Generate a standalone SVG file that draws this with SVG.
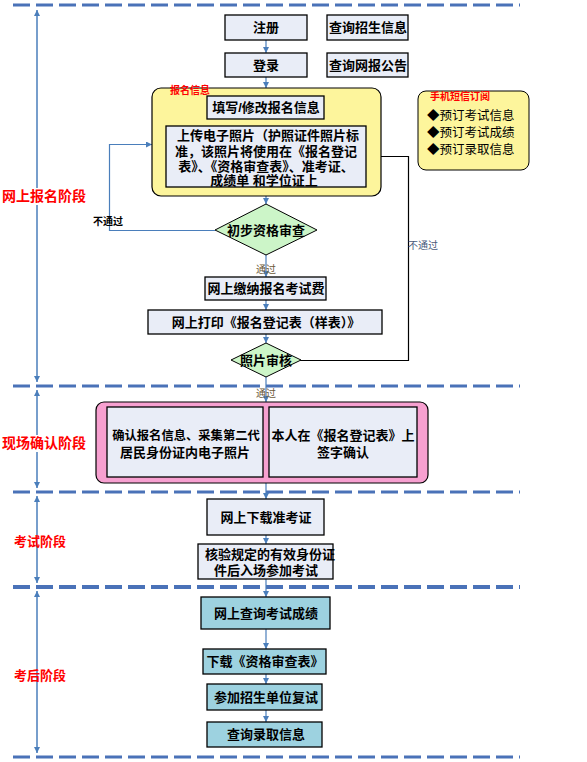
<svg xmlns="http://www.w3.org/2000/svg" width="587" height="762" viewBox="0 0 587 762">
<defs>
<marker id="ab" viewBox="0 0 8 8" refX="8" refY="4" markerWidth="6" markerHeight="6" orient="auto-start-reverse" markerUnits="userSpaceOnUse"><path d="M0,0 L8,4 L0,8 z" fill="#4a7ebb"/></marker>
<marker id="ak" viewBox="0 0 8 8" refX="8" refY="4" markerWidth="6" markerHeight="6" orient="auto" markerUnits="userSpaceOnUse"><path d="M0,0 L8,4 L0,8 z" fill="#000"/></marker>
</defs>
<style>
text{font-family:"Liberation Sans","Noto Sans CJK SC",sans-serif;}
.b{font-weight:bold;font-size:13px;text-anchor:middle;fill:#000;}
.box{fill:#e9edf7;stroke:#000;stroke-width:1.3;}
.teal{fill:#9dd2e0;stroke:#000;stroke-width:1.3;}
.dash{stroke:#4a72b8;stroke-width:3;stroke-dasharray:17 6;fill:none;}
.c{stroke:#4a7ebb;stroke-width:1.2;fill:none;marker-end:url(#ab);}
.stage{stroke:#4a7ebb;stroke-width:1.5;fill:none;marker-start:url(#ab);marker-end:url(#ab);}
.red{fill:#ff0000;font-weight:bold;font-size:10px;}
.lbl{fill:#ff0000;font-weight:bold;font-size:14px;}
.small{font-size:10px;fill:#555;}
</style>

<g id="stages">
<line class="dash" x1="13" y1="5" x2="520" y2="5"/>
<line class="dash" x1="13" y1="386" x2="520" y2="386"/>
<line class="dash" x1="13" y1="492" x2="520" y2="492"/>
<line class="dash" x1="13" y1="587" x2="520" y2="587" style="stroke-width:4"/>
<line class="dash" x1="13" y1="757" x2="520" y2="757"/>
<line class="stage" x1="37" y1="10" x2="37" y2="382"/>
<line class="stage" x1="37" y1="390" x2="37" y2="488"/>
<line class="stage" x1="37" y1="496" x2="37" y2="583"/>
<line class="stage" x1="37" y1="591" x2="37" y2="753"/>
<rect x="2" y="188" width="78" height="17" fill="#fff"/>
<text class="lbl" x="2" y="201">网上报名阶段</text>
<rect x="2" y="435" width="78" height="17" fill="#fff"/>
<text class="lbl" x="2" y="448">现场确认阶段</text>
<text class="lbl" x="14" y="546" style="font-size:13px">考试阶段</text>
<text class="lbl" x="14" y="680" style="font-size:13px">考后阶段</text>
</g>

<g id="connectors">
<line class="c" x1="266" y1="40" x2="266" y2="53"/>
<line class="c" x1="266" y1="77" x2="266" y2="88"/>
<line class="c" x1="266" y1="196" x2="266" y2="204"/>
<line class="c" x1="266" y1="255" x2="266" y2="277"/>
<line class="c" x1="266" y1="300" x2="266" y2="310"/>
<line class="c" x1="266" y1="334" x2="266" y2="343"/>
<line class="c" x1="266" y1="377" x2="266" y2="402"/>
<line class="c" x1="266" y1="483" x2="266" y2="499"/>
<line class="c" x1="266" y1="535" x2="266" y2="544"/>
<line class="c" x1="266" y1="579" x2="266" y2="597"/>
<line class="c" x1="266" y1="629" x2="266" y2="649"/>
<line class="c" x1="266" y1="674" x2="266" y2="684"/>
<line class="c" x1="266" y1="710" x2="266" y2="722"/>
<polyline class="c" points="215,230.5 109.5,230.5 109.5,144.5 152,144.5"/>
<polyline points="300,360.5 408.5,360.5 408.5,156.5 366,156.5" fill="none" stroke="#000" stroke-width="1.2" marker-end="url(#ak)"/>
<text x="93" y="225" style="font-size:10px;font-weight:bold;fill:#000">不通过</text>
<text x="408" y="249" class="small" style="fill:#4a5a7a">不通过</text>
<text x="266" y="273" class="small" style="text-anchor:middle;fill:#6b5a3a">通过</text>
<text x="266" y="397" class="small" style="text-anchor:middle;fill:#6b5a3a">通过</text>
</g>

<g id="n-zhuce"><rect class="box" x="225" y="15" width="82" height="25"/><text class="b" x="266" y="32">注册</text></g>
<g id="n-denglu"><rect class="box" x="225" y="53" width="82" height="24"/><text class="b" x="266" y="70">登录</text></g>
<g id="n-zhaosheng"><rect class="box" x="327" y="15" width="81" height="25"/><text class="b" x="368" y="32">查询招生信息</text></g>
<g id="n-gonggao"><rect class="box" x="327" y="53" width="81" height="24"/><text class="b" x="368" y="70">查询网报公告</text></g>

<g id="n-baoming">
<rect x="152" y="88" width="229" height="108" rx="9" fill="#fdf59c" stroke="#000" stroke-width="1.2"/>
<text class="red" x="170" y="94">报名信息</text>
</g>
<g id="n-tianxie"><rect class="box" x="207" y="96" width="117" height="23"/><text class="b" x="266" y="112">填写/修改报名信息</text></g>
<g id="n-shangchuan"><rect class="box" x="166" y="126" width="200" height="61"/>
<text class="b" x="268" y="140">上传电子照片（护照证件照片标</text>
<text class="b" x="266" y="156">准，该照片将使用在《报名登记</text>
<text class="b" x="266" y="171">表》、《资格审查表》、准考证、</text>
<text class="b" x="264" y="185">成绩单 和学位证上</text>
</g>

<g id="n-duanxin">
<rect x="418" y="91" width="111" height="79" rx="8" fill="#fdf59c" stroke="#000" stroke-width="1"/>
<text class="red" x="430" y="100">手机短信订阅</text>
<text x="427" y="120" style="font-size:12.5px">◆预订考试信息</text>
<text x="427" y="137" style="font-size:12.5px">◆预订考试成绩</text>
<text x="427" y="154" style="font-size:12.5px">◆预订录取信息</text>
</g>

<g id="n-chubu"><polygon points="266,204 317,230 266,255 215,230" fill="#ccf5c8" stroke="#000" stroke-width="1"/><text class="b" x="266" y="235">初步资格审查</text></g>
<g id="n-jiaofei"><rect class="box" x="205" y="277" width="121" height="23"/><text class="b" x="266" y="293">网上缴纳报名考试费</text></g>
<g id="n-dayin"><rect class="box" x="148" y="310" width="234" height="24"/><text class="b" x="266" y="327">网上打印《报名登记表（样表）》</text></g>
<g id="n-zhaopian"><polygon points="266,343 301,360 266,377 231,360" fill="#ccf5c8" stroke="#000" stroke-width="1"/><text class="b" x="266" y="365">照片审核</text></g>

<g id="n-xianchang">
<rect x="96" y="402" width="332" height="81" rx="8" fill="#f7a0d0" stroke="#000" stroke-width="1.2"/>
</g>
<g id="n-queren"><rect class="box" x="107" y="407" width="156" height="70"/>
<text class="b" x="186" y="440" style="font-size:12.3px">确认报名信息、采集第二代</text>
<text class="b" x="185" y="457">居民身份证内电子照片</text></g>
<g id="n-qianzi"><rect class="box" x="269" y="407" width="148" height="70"/>
<text class="b" x="343" y="440">本人在《报名登记表》上</text>
<text class="b" x="343" y="457">签字确认</text></g>

<g id="n-zhunkao"><rect class="box" x="207" y="499" width="117" height="36"/><text class="b" x="266" y="522">网上下载准考证</text></g>
<g id="n-heyan"><rect class="box" x="198" y="544" width="135" height="35"/>
<text class="b" x="270" y="559">核验规定的有效身份证</text>
<text class="b" x="266" y="575">件后入场参加考试</text></g>

<g id="n-chengji"><rect class="teal" x="201" y="597" width="129" height="32"/><text class="b" x="266" y="618">网上查询考试成绩</text></g>
<g id="n-shencha"><rect class="teal" x="203" y="649" width="123" height="25"/><text class="b" x="265" y="666">下载《资格审查表》</text></g>
<g id="n-fushi"><rect class="teal" x="207" y="684" width="115" height="26"/><text class="b" x="266" y="702">参加招生单位复试</text></g>
<g id="n-luqu"><rect class="teal" x="207" y="722" width="115" height="25"/><text class="b" x="266" y="739">查询录取信息</text></g>
</svg>
